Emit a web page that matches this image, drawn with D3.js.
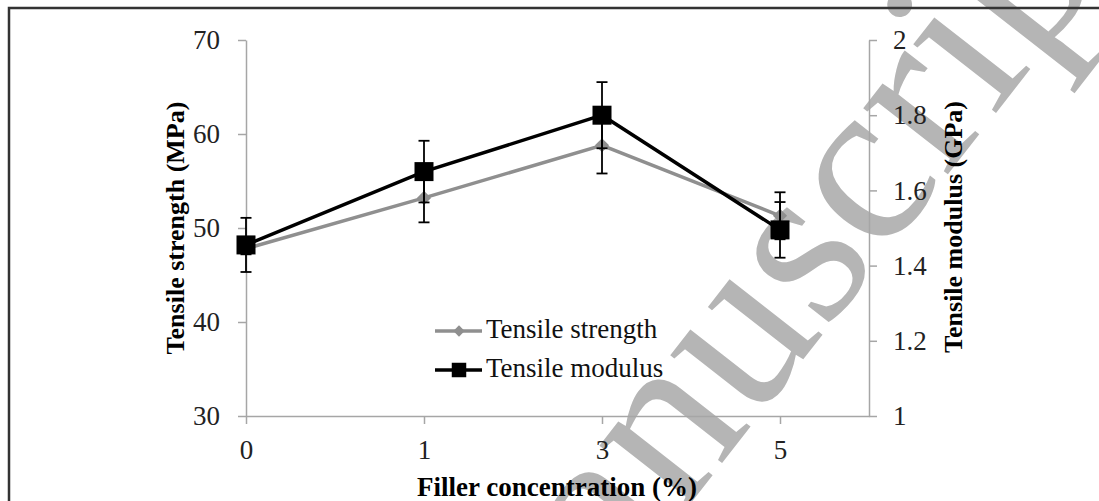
<!DOCTYPE html>
<html>
<head>
<meta charset="utf-8">
<script src="https://cdn.jsdelivr.net/npm/d3@7"></script>
<style>
  body { margin: 0; background: #fff; }
  svg { display: block; }
  text { font-family: "Liberation Serif", "Times New Roman", serif; }
</style>
</head>
<body>
<script>
// data
var categories = ["0", "1", "3", "5"];
var strength = [47.8, 53.2, 58.8, 51.3];        // MPa
var strengthErr = [0.6, 2.6, 3.0, 2.5];
var modulus = [1.455, 1.65, 1.80, 1.495];       // GPa
var modulusErr = [0.072, 0.082, 0.088, 0.074];
var leftTicks = [30, 40, 50, 60, 70];
var rightTicks = [1, 1.2, 1.4, 1.6, 1.8, 2];
var rightTickLabels = ["1", "1.2", "1.4", "1.6", "1.8", "2"];

var W = 1099, H = 501;
var svg = d3.select('body').append('svg')
    .attr('width', W)
    .attr('height', H);

svg.append('rect').attr('width', W).attr('height', H).attr('fill', '#fff');

// watermark sits under the chart
svg.append('text')
    .attr('transform', 'translate(1145,-78) rotate(-52)')
    .attr('text-anchor', 'end')
    .attr('font-size', 234)
    .attr('fill', '#b5b5b5')
    .text('Accepted Manuscript');

// frame (left + top edges only are in view)
svg.append('path')
    .attr('d', 'M9,' + H + 'V8H' + W)
    .attr('fill', 'none')
    .attr('stroke', '#333')
    .attr('stroke-width', 2.5);

var x = d3.scaleLinear().domain([0, 3.5]).range([246, 869]);
var yL = d3.scaleLinear().domain([30, 70]).range([416, 40]);
var yR = d3.scaleLinear().domain([1, 2]).range([416, 40]);

var axisColor = '#a6a6a6';
function styleAxis(g, size) {
  g.select('.domain').attr('stroke', axisColor).attr('stroke-width', 1.5);
  g.selectAll('.tick line').attr('stroke', axisColor).attr('stroke-width', 1.5);
  g.selectAll('.tick text')
    .attr('font-family', '"Liberation Serif", "Times New Roman", serif')
    .attr('font-size', size)
    .attr('fill', '#222');
}

svg.append('g')
    .attr('transform', 'translate(0,416)')
    .call(d3.axisBottom(x).tickValues([0, 1, 2, 3])
      .tickFormat(function(i) { return categories[i]; })
      .tickSize(8).tickSizeOuter(0).tickPadding(16))
    .call(styleAxis, 27);

svg.append('g')
    .attr('transform', 'translate(246,0)')
    .call(d3.axisLeft(yL).tickValues(leftTicks)
      .tickSize(8).tickSizeOuter(0).tickPadding(18))
    .call(styleAxis, 27);

svg.append('g')
    .attr('transform', 'translate(869,0)')
    .call(d3.axisRight(yR).tickValues(rightTicks)
      .tickFormat(function(d, i) { return rightTickLabels[i]; })
      .tickSize(8).tickSizeOuter(0).tickPadding(16))
    .call(styleAxis, 27);

// axis titles
svg.append('text')
    .attr('transform', 'translate(184,228) rotate(-90)')
    .attr('text-anchor', 'middle')
    .attr('font-size', 26).attr('font-weight', 'bold')
    .text('Tensile strength (MPa)');

svg.append('text')
    .attr('transform', 'translate(962,227) rotate(-90)')
    .attr('text-anchor', 'middle')
    .attr('font-size', 26).attr('font-weight', 'bold')
    .text('Tensile modulus (GPa)');

svg.append('text')
    .attr('x', 557).attr('y', 496)
    .attr('text-anchor', 'middle')
    .attr('font-size', 27).attr('font-weight', 'bold')
    .text('Filler concentration (%)');

var gray = '#8f8f8f';
var idx = d3.range(categories.length);

// tensile strength series
svg.append('path')
    .datum(idx)
    .attr('fill', 'none').attr('stroke', gray).attr('stroke-width', 3.5)
    .attr('d', d3.line().x(function(i) { return x(i); }).y(function(i) { return yL(strength[i]); }));

svg.selectAll('.dia').data(idx).enter().append('path')
    .attr('transform', function(i) { return 'translate(' + x(i) + ',' + yL(strength[i]) + ') rotate(45)'; })
    .attr('d', d3.symbol(d3.symbolSquare, 100)())
    .attr('fill', gray);

function errBars(cls, vals, errs, scale) {
  var g = svg.selectAll('.' + cls).data(idx).enter().append('g')
      .attr('stroke', '#000').attr('stroke-width', 1.8);
  g.append('line')
    .attr('x1', function(i) { return x(i); }).attr('x2', function(i) { return x(i); })
    .attr('y1', function(i) { return scale(vals[i] - errs[i]); })
    .attr('y2', function(i) { return scale(vals[i] + errs[i]); });
  [-1, 1].forEach(function(s) {
    g.append('line')
      .attr('x1', function(i) { return x(i) - 5.5; }).attr('x2', function(i) { return x(i) + 5.5; })
      .attr('y1', function(i) { return scale(vals[i] + s * errs[i]); })
      .attr('y2', function(i) { return scale(vals[i] + s * errs[i]); });
  });
}
errBars('es', strength, strengthErr, yL);

// tensile modulus series
svg.append('path')
    .datum(idx)
    .attr('fill', 'none').attr('stroke', '#000').attr('stroke-width', 3.5)
    .attr('d', d3.line().x(function(i) { return x(i); }).y(function(i) { return yR(modulus[i]); }));

errBars('em', modulus, modulusErr, yR);

svg.selectAll('.sq').data(idx).enter().append('path')
    .attr('transform', function(i) { return 'translate(' + x(i) + ',' + yR(modulus[i]) + ')'; })
    .attr('d', d3.symbol(d3.symbolSquare, 361)())
    .attr('fill', '#000');

// legend
var legend = [
  { name: 'Tensile strength', color: gray, y: 331, shape: 'dia' },
  { name: 'Tensile modulus', color: '#000', y: 370, shape: 'sq' }
];
var lg = svg.selectAll('.lg').data(legend).enter().append('g');
lg.append('line')
    .attr('x1', 435).attr('x2', 482)
    .attr('y1', function(d) { return d.y; }).attr('y2', function(d) { return d.y; })
    .attr('stroke', function(d) { return d.color; }).attr('stroke-width', 3.5);
lg.append('path')
    .attr('transform', function(d) {
      return 'translate(459,' + d.y + ')' + (d.shape === 'dia' ? ' rotate(45)' : '');
    })
    .attr('d', function(d) { return d3.symbol(d3.symbolSquare, d.shape === 'dia' ? 64 : 210)(); })
    .attr('fill', function(d) { return d.color; });
lg.append('text')
    .attr('x', 486).attr('y', function(d) { return d.y + 7; })
    .attr('font-size', 27)
    .attr('fill', '#111')
    .text(function(d) { return d.name; });
</script>
</body>
</html>
